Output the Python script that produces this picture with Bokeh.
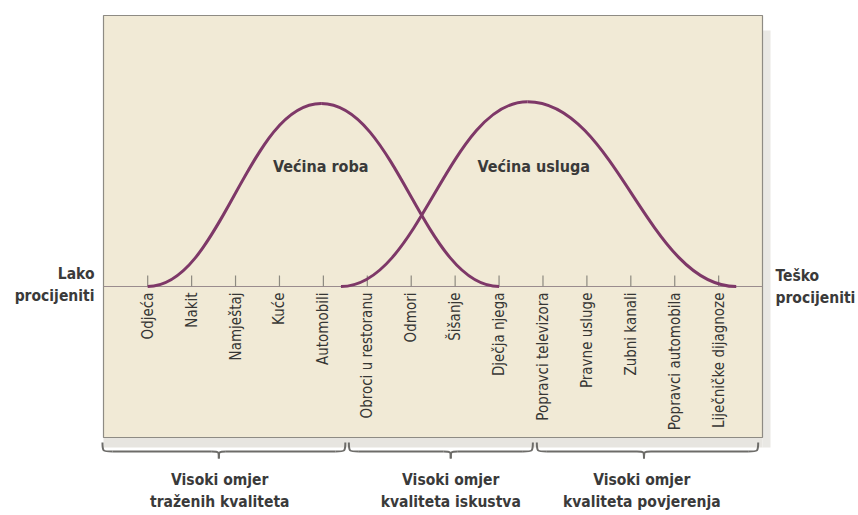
import math
from bokeh.plotting import figure
from bokeh.models import Range1d
from bokeh.core.properties import value
from bokeh.embed import file_html
from bokeh.resources import INLINE

# ---------------- data ----------------
products = ["Odjeća", "Nakit", "Namještaj", "Kuće", "Automobili",
            "Obroci u restoranu", "Odmori", "Šišanje", "Dječja njega",
            "Popravci televizora", "Pravne usluge", "Zubni kanali",
            "Popravci automobila", "Liječničke dijagnoze"]

curve_names = ["Većina roba", "Većina usluga"]
curve_start = [0.0, 4.4]      # position on the scale where the curve leaves the baseline
curve_peak = [3.95, 8.65]     # position of the maximum
curve_end = [8.0, 13.4]       # position where it returns to the baseline
curve_height = [1.0, 1.01]    # relative height of the maximum
curve_label_x = [3.94, 8.79]

group_line1 = ["Visoki omjer", "Visoki omjer", "Visoki omjer"]
group_line2 = ["traženih kvaliteta", "kvaliteta iskustva", "kvaliteta povjerenja"]
group_start = [-1.03, 4.58, 8.86]
group_end = [4.5, 8.77, 13.9]
group_tip = [1.62, 6.9, 11.3]
group_text_x = [1.64, 6.9, 11.25]

left_label = ["Lako", "procijeniti"]
right_label = ["Teško", "procijeniti"]

# ---------------- layout helpers (page pixels -> data) ----------------
W, H = 858, 515
X0, DX = 147.2, 43.92     # x of first tick, spacing between ticks
Y0, DY = 286.0, 183.0     # y of baseline, pixels for height 1.0


def px(xpage):
    return (xpage - X0) / DX


def py(ypage):
    return (Y0 - ypage) / DY


p = figure(width=W, height=H, x_range=Range1d(px(0), px(W)),
           y_range=Range1d(py(H), py(0)), output_backend="svg",
           toolbar_location=None, x_axis_type=None, y_axis_type=None,
           min_border=0)
p.outline_line_color = None
p.background_fill_color = "white"
p.border_fill_color = "white"
p.grid.grid_line_color = None

FONT = value("'DejaVu Sans Condensed', 'Liberation Sans Narrow', Roboto, sans-serif")
TXT = "#3a3a3a"

# scan shadow strips
p.quad(left=px(103), right=px(762), top=py(437), bottom=py(447),
       fill_color="#e7e5e0", line_color=None)
p.quad(left=px(762), right=px(770), top=py(30), bottom=py(447),
       fill_color="#e9e8e4", line_color=None)

# beige box
p.quad(left=px(103), right=px(762), top=py(15), bottom=py(437),
       fill_color="#f1ead6", line_color="#8e8b84", line_width=1.2)

# baseline and ticks
xs = list(range(len(products)))
p.segment(x0=px(103), y0=0, x1=px(762), y1=0, line_color="#9a8c8e", line_width=1.2)
p.segment(x0=xs, y0=[0] * len(xs), x1=xs, y1=[11 / DY] * len(xs),
          line_color="#8d8a80", line_width=1.2)

# tick labels (vertical)
p.text(x=xs, y=[py(292)] * len(xs), text=products, angle=math.pi / 2,
       text_align="right", text_baseline="middle", text_font=FONT,
       text_font_size="15px", text_color="#363634")

# bell curves as two cubic Bezier halves
a = 0.42
bx0, by0, bx1, by1, bcx0, bcy0, bcx1, bcy1 = [], [], [], [], [], [], [], []
for s, m, e, h in zip(curve_start, curve_peak, curve_end, curve_height):
    bx0.append(s); by0.append(0); bx1.append(m); by1.append(h)
    bcx0.append(s + a * (m - s)); bcy0.append(0)
    bcx1.append(m - a * (m - s)); bcy1.append(h)
    bx0.append(m); by0.append(h); bx1.append(e); by1.append(0)
    bcx0.append(m + a * (e - m)); bcy0.append(h)
    bcx1.append(e - a * (e - m)); bcy1.append(0)
p.bezier(x0=bx0, y0=by0, x1=bx1, y1=by1, cx0=bcx0, cy0=bcy0, cx1=bcx1, cy1=bcy1,
         line_color="#7e3868", line_width=3)

p.text(x=curve_label_x, y=[py(166)] * 2, text=curve_names, text_align="center",
       text_baseline="middle", text_font=FONT, text_font_style="bold",
       text_font_size="16px", text_color=TXT)

# end labels
p.text(x=[px(94)] * 2, y=[py(273), py(295)], text=left_label, text_align="right",
       text_baseline="middle", text_font=FONT, text_font_style="bold",
       text_font_size="15.5px", text_color=TXT)
p.text(x=[px(775)] * 2, y=[py(275), py(297)], text=right_label, text_align="left",
       text_baseline="middle", text_font=FONT, text_font_style="bold",
       text_font_size="15.5px", text_color=TXT)

# braces
ya, yb, yc = py(442), py(451), py(458)
r = 10 / DX
t = 7 / DX
for s, e, tip in zip(group_start, group_end, group_tip):
    p.bezier(x0=[s, tip - t, e, tip + t], y0=[ya, yb, ya, yb],
             x1=[s + r, tip, e - r, tip], y1=[yb, yc, yb, yc],
             cx0=[s, tip, e, tip], cy0=[yb, yb, yb, yb],
             cx1=[s, tip, e, tip], cy1=[yb, yb, yb, yb],
             line_color="#6d6c69", line_width=2)
    p.segment(x0=[s + r, tip + t], y0=[yb, yb], x1=[tip - t, e - r], y1=[yb, yb],
              line_color="#6d6c69", line_width=2)

p.text(x=group_text_x, y=[py(479)] * 3, text=group_line1, text_align="center",
       text_baseline="middle", text_font=FONT, text_font_style="bold",
       text_font_size="15.5px", text_color=TXT)
p.text(x=group_text_x, y=[py(501)] * 3, text=group_line2, text_align="center",
       text_baseline="middle", text_font=FONT, text_font_style="bold",
       text_font_size="15.5px", text_color=TXT)

open("out.html", "w").write(file_html(p, INLINE))
